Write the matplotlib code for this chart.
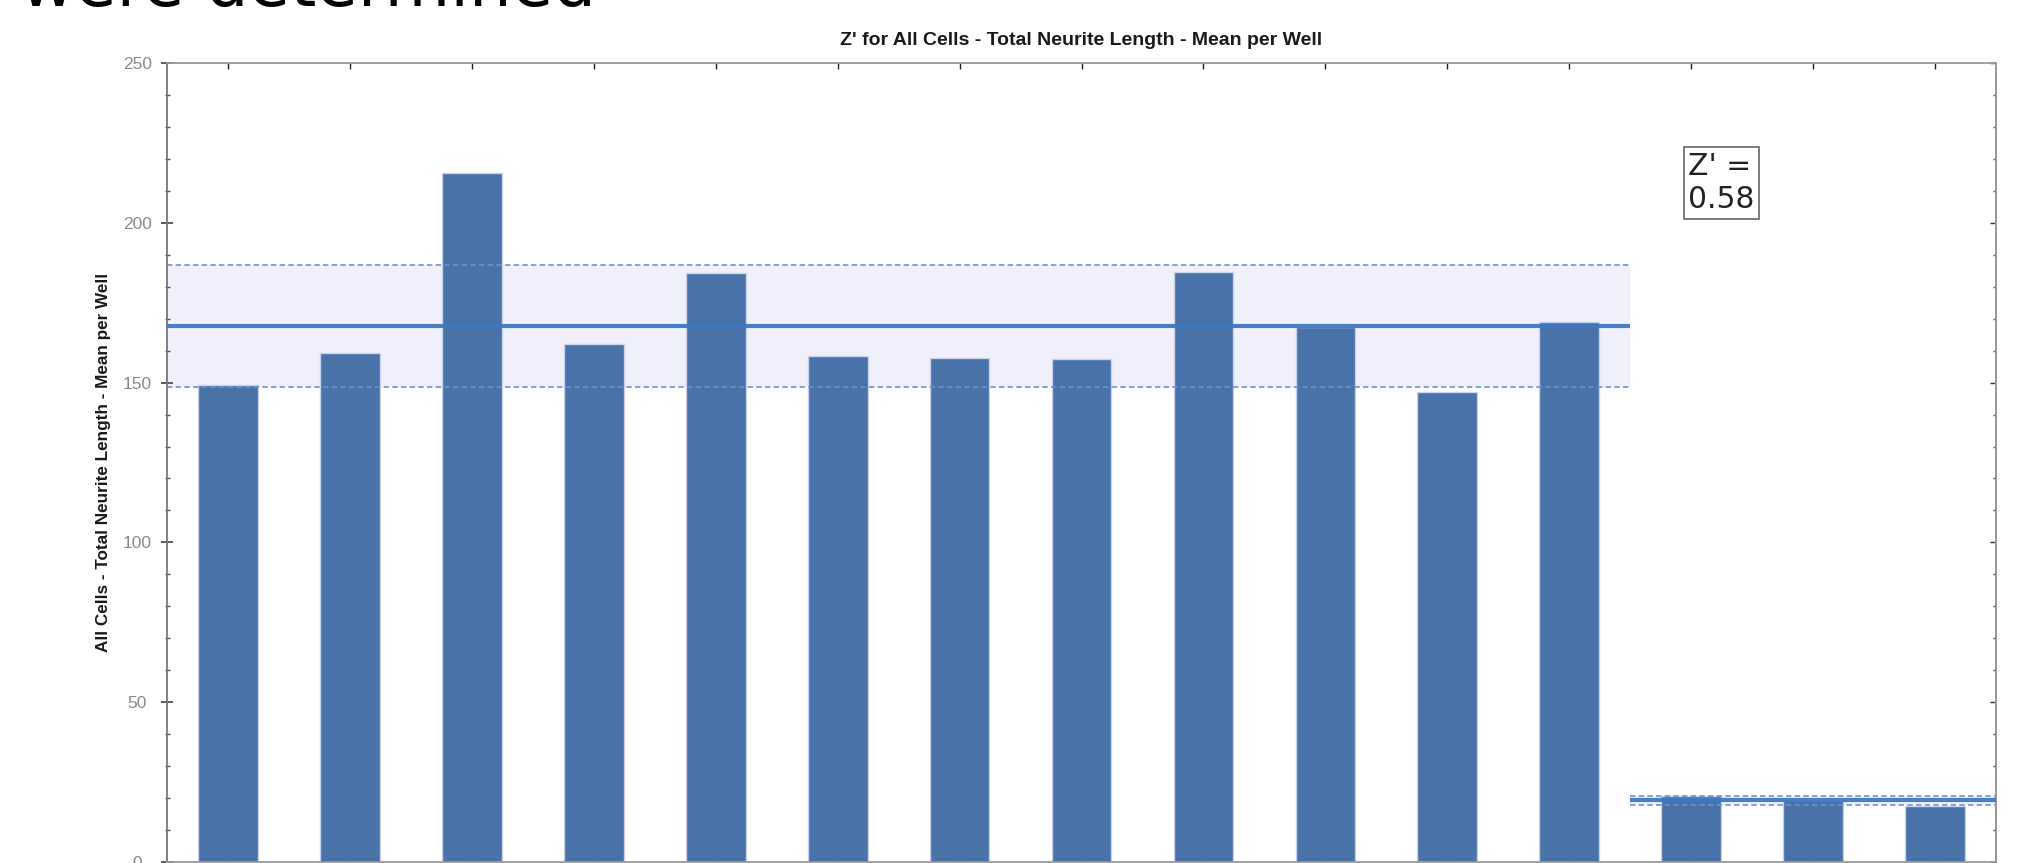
import numpy as np
import matplotlib.pyplot as plt
from matplotlib.ticker import MultipleLocator

# Mean neurite length per well: positive controls, then negative controls
pos_ctrl = [149.4, 159.4, 215.7, 162.1, 184.3, 158.4, 157.6, 157.4, 184.5, 167.5, 147.1, 169.0]
neg_ctrl = [20.7, 19.4, 17.6]

values = pos_ctrl + neg_ctrl
wells = np.arange(1, len(values) + 1)

title = "Z' for All Cells - Total Neurite Length - Mean per Well"
ylabel = "All Cells - Total Neurite Length - Mean per Well"
yticks = [0, 50, 100, 150, 200, 250]

# Group statistics and Z' factor
mu_p, sd_p = np.mean(pos_ctrl), np.std(pos_ctrl, ddof=1)
mu_n, sd_n = np.mean(neg_ctrl), np.std(neg_ctrl, ddof=1)
z_prime = 1 - 3 * (sd_p + sd_n) / abs(mu_p - mu_n)

n_pos = len(pos_ctrl)
groups = [(0.5, n_pos + 0.5, mu_p, sd_p), (n_pos + 0.5, len(values) + 0.5, mu_n, sd_n)]

fig = plt.figure(figsize=(20.37, 8.63), dpi=100)
fig.text(20 / 2037, 1 - 6 / 863, "were determined", fontsize=48.5,
         family="DejaVu Sans", color="black", va="baseline", ha="left")

ax = fig.add_axes([0.082, 0.0012, 0.8979, 0.9258])

for x0, x1, mu, sd in groups:
    ax.fill_between([x0, x1], mu - sd, mu + sd, color="#f0f0fc", lw=0, zorder=0)

ax.bar(wells, values, width=0.49, color="#4872a8", edgecolor="#c9d2ea", linewidth=1, zorder=2)

for x0, x1, mu, sd in groups:
    ax.hlines([mu - sd, mu + sd], x0, x1, colors="#6a92cf", linestyles=(0, (3, 1.8)),
              linewidth=1.3, alpha=0.9, zorder=3)
    ax.hlines(mu, x0, x1, colors="#3f78c0", linewidth=3, alpha=0.95, zorder=4)

ax.set_xlim(0.5, len(values) + 0.5)
ax.set_ylim(0, 250)

ax.set_xticks(wells)
ax.tick_params(axis="x", which="major", direction="in", top=True, bottom=True,
               length=4.5, width=1, color="#222222", labelbottom=False)
ax.set_yticks(yticks)
ax.yaxis.set_minor_locator(MultipleLocator(10))
ax.tick_params(axis="y", which="major", direction="inout", length=8.6, width=1.1,
               color="#333333", labelcolor="#8a8a8a", labelsize=12.5, pad=17)
ax.tick_params(axis="y", which="minor", direction="inout", length=3.6, width=1,
               color="#555555")
for lab in ax.get_yticklabels():
    lab.set_family("Liberation Sans")
    lab.set_horizontalalignment("center")

right = ax.secondary_yaxis("right")
right.set_yticks(yticks)
right.yaxis.set_minor_locator(MultipleLocator(10))
right.tick_params(which="major", direction="in", length=4.5, width=1, color="#333333",
                  labelright=False)
right.tick_params(which="minor", direction="in", length=2.5, width=1, color="#555555")
right.spines["right"].set_color("#999999")
right.spines["right"].set_linewidth(1.3)

for side in ["left", "right", "top", "bottom"]:
    ax.spines[side].set_color("#999999")
    ax.spines[side].set_linewidth(1.3)
ax.spines["left"].set_color("#777777")

ax.set_title(title, fontsize=14, fontweight="bold", family="Liberation Sans",
             color="#1a1a1a", pad=13)
ax.set_ylabel(ylabel, fontsize=12.3, fontweight="bold", family="Liberation Sans",
              color="#1a1a1a")
ax.yaxis.set_label_coords(-0.0306, 0.5)

ax.text(0.8497, 0.8498, "Z' =\n%.2f" % z_prime, transform=ax.transAxes, ha="center",
        va="center", multialignment="left", fontsize=21.4, family="DejaVu Sans",
        color="#222222", zorder=6,
        bbox=dict(boxstyle="square,pad=0.15", fc="white", ec="#666666", lw=1.2))

fig.savefig("out.png", dpi=100)
